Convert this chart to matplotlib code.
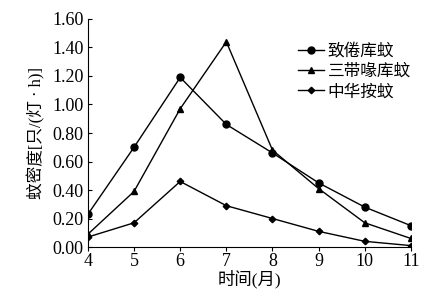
import numpy as np
import matplotlib
matplotlib.use('Agg')
import matplotlib.pyplot as plt

plt.rcParams['font.family'] = ['Liberation Serif', 'Noto Sans CJK SC']

months = [4, 5, 6, 7, 8, 9, 10, 11]
culex_pipiens = [0.23, 0.70, 1.19, 0.86, 0.66, 0.45, 0.28, 0.15]
culex_tritaenio = [0.09, 0.39, 0.97, 1.44, 0.68, 0.41, 0.17, 0.06]
anopheles_sinensis = [0.07, 0.17, 0.46, 0.29, 0.20, 0.11, 0.04, 0.01]
series_names = ['致倦库蚊', '三带喙库蚊', '中华按蚊']

fig = plt.figure(figsize=(4.33, 2.92), dpi=100)
ax = fig.add_axes([0.203, 0.154, 0.746, 0.781])

ax.plot(months, culex_pipiens, '-o', color='black', lw=1.0, ms=5, label=series_names[0])
ax.plot(months, culex_tritaenio, '-^', color='black', lw=1.0, ms=5, label=series_names[1])
ax.plot(months, anopheles_sinensis, '-D', color='black', lw=1.0, ms=3.3, label=series_names[2])

ax.set_xlim(4, 11)
ax.set_ylim(0, 1.6)
ax.set_xticks(months)
ax.set_yticks(np.arange(0, 1.61, 0.2))
ax.set_yticklabels([f'{v:.2f}' for v in np.arange(0, 1.61, 0.2)])
ax.spines['top'].set_visible(False)
ax.spines['right'].set_visible(False)
ax.tick_params(axis='y', direction='in', length=3, labelsize=13, pad=3)
ax.tick_params(axis='x', direction='out', length=3, labelsize=13, pad=1)

ax.set_xlabel('时间(月)', fontsize=12.5, labelpad=0)
ax.set_ylabel('蚊密度[只/(灯 · h)]', fontsize=12, labelpad=5)

ax.legend(loc='upper right', bbox_to_anchor=(1.02, 0.92), frameon=False, fontsize=12,
          handlelength=1.6, handletextpad=0.2, labelspacing=0.25, borderaxespad=0)

fig.savefig('out.png', dpi=100)
